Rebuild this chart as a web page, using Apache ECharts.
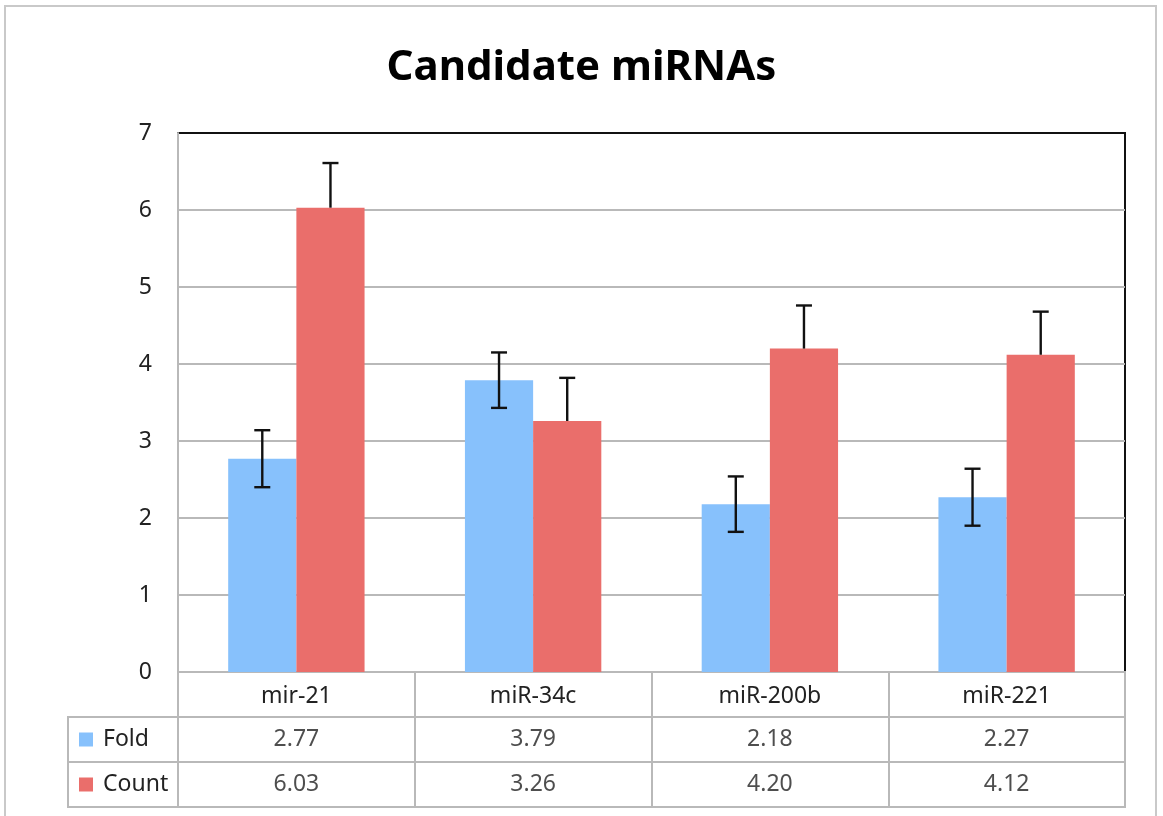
<!DOCTYPE html>
<html>
<head>
<meta charset="UTF-8">
<script src="https://cdn.jsdelivr.net/npm/echarts@6/dist/echarts.min.js"></script>
<style>
  html, body { margin: 0; padding: 0; background: #fff; }
  #main { width: 1163px; height: 816px; }
</style>
</head>
<body>
<div id="main"></div>
<script>
// chart data
var categories = ['mir-21', 'miR-34c', 'miR-200b', 'miR-221'];
var seriesNames = ['Fold', 'Count'];
var foldValues = [2.77, 3.79, 2.18, 2.27];
var countValues = [6.03, 3.26, 4.20, 4.12];
var foldErr = [0.37, 0.36, 0.36, 0.37];
var countErr = [0.58, 0.56, 0.56, 0.56];
var yTicks = [0, 1, 2, 3, 4, 5, 6, 7];

var blue = '#87c1fc';
var red = '#ea6e6b';
var lineGray = '#b9b9b9';
var font = '"Noto Sans", sans-serif';

var chart = echarts.init(document.getElementById('main'));

// error bar drawn around the bar; side = -1 for left bar, 1 for right bar
function errorBar(side, bothWays) {
  return function (params, api) {
    var idx = api.value(0);
    var v = api.value(1);
    var e = api.value(2);
    var band = api.size([1, 0])[0];
    var off = side * band * 0.144;
    var top = api.coord([idx, v + e]);
    var bot = api.coord([idx, bothWays ? v - e : v]);
    var x = top[0] + off;
    var style = { stroke: '#111', lineWidth: 2.4 };
    var kids = [
      { type: 'line', shape: { x1: x, y1: top[1], x2: x, y2: bot[1] }, style: style },
      { type: 'line', shape: { x1: x - 8, y1: top[1], x2: x + 8, y2: top[1] }, style: style }
    ];
    if (bothWays) {
      kids.push({ type: 'line', shape: { x1: x - 8, y1: bot[1], x2: x + 8, y2: bot[1] }, style: style });
    }
    return { type: 'group', children: kids };
  };
}

var option = {
  backgroundColor: '#fff',
  animation: false,
  title: {
    text: 'Candidate miRNAs',
    left: 'center',
    top: 42,
    textStyle: { fontFamily: font, fontWeight: 'bold', fontSize: 42, color: '#000' }
  },
  graphic: [{
    type: 'rect',
    shape: { x: 5, y: 6, width: 1151, height: 830 },
    style: { fill: 'none', stroke: '#c9c9c9', lineWidth: 2 },
    z: -1
  }],
  grid: [
    { left: 178, top: 133, width: 947, height: 539, show: true, borderColor: '#111', borderWidth: 2 },
    { left: 178, top: 672, width: 947, height: 135, show: true, borderColor: lineGray, borderWidth: 2 },
    { left: 68, top: 717, width: 110, height: 90, show: true, borderColor: lineGray, borderWidth: 2 }
  ],
  xAxis: [
    {
      gridIndex: 0, type: 'category', data: categories,
      axisLine: { lineStyle: { color: lineGray, width: 2 } },
      axisTick: { show: false },
      axisLabel: { margin: 13, fontSize: 23, color: '#222', fontFamily: font }
    },
    {
      gridIndex: 1, type: 'category', data: categories,
      axisLine: { show: false }, axisTick: { show: false }, axisLabel: { show: false },
      splitLine: { show: true, interval: 0, lineStyle: { color: lineGray, width: 2 } }
    },
    { gridIndex: 2, type: 'value', show: false }
  ],
  yAxis: [
    {
      gridIndex: 0, type: 'value', min: yTicks[0], max: yTicks[yTicks.length - 1], interval: 1,
      axisLine: { show: true, lineStyle: { color: lineGray, width: 2 } },
      axisTick: { show: false },
      axisLabel: { margin: 26, fontSize: 23, color: '#222', fontFamily: font },
      splitLine: { showMaxLine: false, lineStyle: { color: lineGray, width: 2 } }
    },
    {
      gridIndex: 1, type: 'category', data: [''].concat(seriesNames), inverse: true,
      axisLine: { show: false }, axisTick: { show: false }, axisLabel: { show: false },
      splitLine: { show: true, interval: 0, lineStyle: { color: lineGray, width: 2 } }
    },
    {
      gridIndex: 2, type: 'category', data: seriesNames, inverse: true,
      axisLine: { show: false }, axisTick: { show: false },
      axisLabel: {
        inside: true, margin: 11, fontSize: 23, color: '#222', fontFamily: font,
        formatter: function (v, i) { return '{s' + i + '|}{t|' + v + '}'; },
        rich: {
          s0: { width: 14, height: 14, backgroundColor: blue },
          s1: { width: 14, height: 14, backgroundColor: red },
          t: { padding: [0, 0, 0, 10], fontSize: 23, color: '#222', fontFamily: font }
        }
      },
      splitLine: { show: true, interval: 0, lineStyle: { color: lineGray, width: 2 } }
    }
  ],
  series: [
    {
      name: 'Fold', type: 'bar', xAxisIndex: 0, yAxisIndex: 0,
      data: foldValues, barWidth: '28.8%', barGap: '0%',
      itemStyle: { color: blue }
    },
    {
      name: 'Count', type: 'bar', xAxisIndex: 0, yAxisIndex: 0,
      data: countValues, barWidth: '28.8%', barGap: '0%',
      itemStyle: { color: red }
    },
    {
      type: 'custom', xAxisIndex: 0, yAxisIndex: 0, z: 5,
      renderItem: errorBar(-1, true),
      data: foldValues.map(function (v, i) { return [i, v, foldErr[i]]; })
    },
    {
      type: 'custom', xAxisIndex: 0, yAxisIndex: 0, z: 5,
      renderItem: errorBar(1, false),
      data: countValues.map(function (v, i) { return [i, v, countErr[i]]; })
    },
    {
      type: 'scatter', xAxisIndex: 1, yAxisIndex: 1, symbolSize: 0,
      data: foldValues.map(function (v, i) { return [categories[i], 'Fold', v]; })
        .concat(countValues.map(function (v, i) { return [categories[i], 'Count', v]; })),
      label: {
        show: true, position: 'inside', fontSize: 23, color: '#222', fontFamily: font,
        formatter: function (p) { return p.value[2].toFixed(2); }
      }
    }
  ]
};

chart.setOption(option);
</script>
</body>
</html>
